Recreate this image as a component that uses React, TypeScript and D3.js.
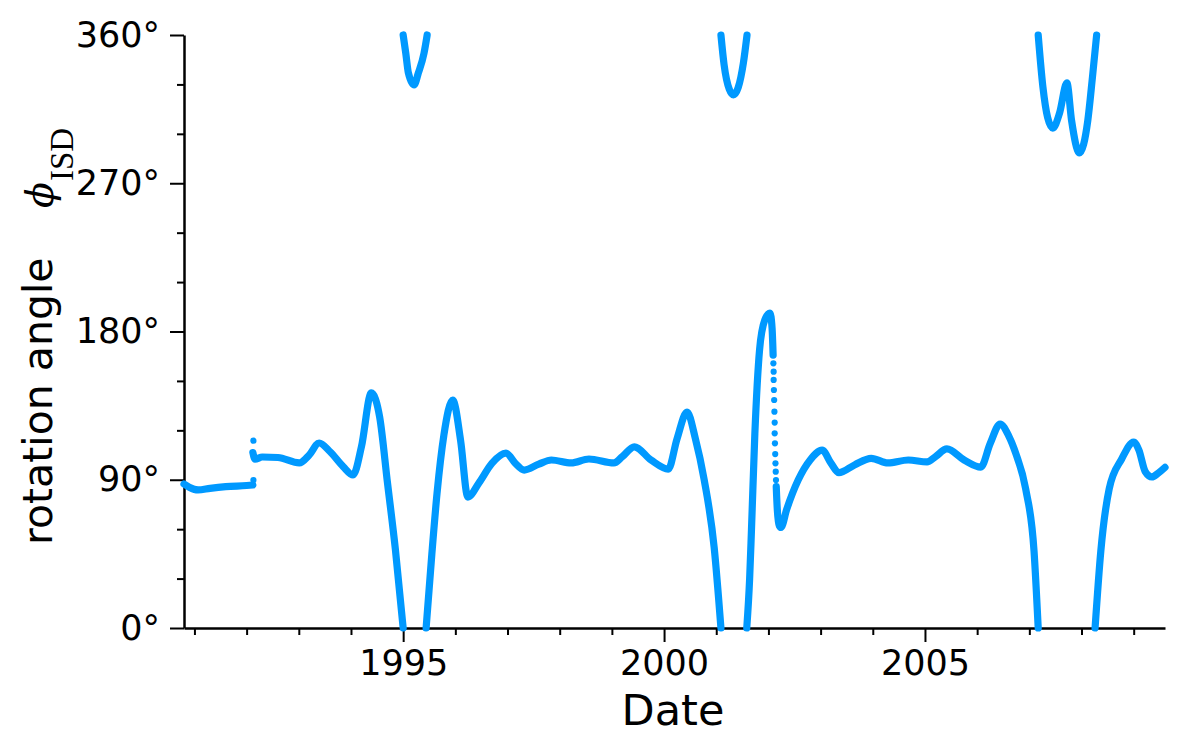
import React, { useEffect, useRef } from 'react';
import * as d3 from 'd3';

type Pt = [number, number];

// track of the rotation angle, read off as [decimal year, degrees]
// one array per unbroken stretch (breaks where the angle wraps 0/360)
const track1991: Pt[] = [
  [1990.8, 87.4], [1990.9, 85.5], [1991.07, 83.8], [1991.3, 84.8],
  [1991.6, 85.8], [1992.0, 86.5], [1992.12, 86.8],
];
const jumpDots1992: Pt[] = [[1992.13, 89.8], [1992.13, 113.7]];
const track1992: Pt[] = [
  [1992.12, 106.5], [1992.16, 102.5], [1992.3, 103.8], [1992.6, 103.5],
  [1993.01, 100.2], [1993.2, 105], [1993.39, 112.3], [1993.6, 107],
  [1993.85, 98], [1994.04, 92.9], [1994.2, 110], [1994.39, 142.7],
  [1994.55, 128], [1994.7, 88], [1994.85, 48], [1995.0, 0],
];
const wrap1995: Pt[] = [
  [1995.0, 360], [1995.05, 349], [1995.1, 337], [1995.21, 329.7],
  [1995.29, 336.8], [1995.4, 349], [1995.46, 360],
];
const track1995: Pt[] = [
  [1995.44, 0], [1995.55, 45], [1995.65, 82], [1995.78, 117],
  [1995.95, 138.4], [1996.1, 114], [1996.24, 79.5], [1996.45, 88],
  [1996.7, 100], [1996.97, 106.2], [1997.15, 100], [1997.32, 95.9],
  [1997.6, 99.5], [1997.84, 102], [1998.22, 100.2], [1998.56, 102.6],
  [1999.04, 100.2], [1999.2, 104], [1999.43, 110], [1999.75, 102],
  [2000.08, 96.5], [2000.25, 115], [2000.44, 131.1], [2000.6, 115],
  [2000.77, 89.8], [2000.96, 49], [2001.09, 0],
];
const wrap2001: Pt[] = [
  [2001.09, 360], [2001.15, 342], [2001.25, 327], [2001.33, 323.6],
  [2001.42, 328], [2001.52, 343], [2001.59, 360],
];
const rise2001: Pt[] = [
  [2001.585, 0], [2001.64, 30], [2001.675, 59.5], [2001.74, 118],
  [2001.83, 168.8], [2001.93, 187], [2002.03, 191.2], [2002.07, 182],
  [2002.09, 165.7],
];
const dropDots2002: Pt[] = [
  [2002.095, 160.7], [2002.1, 155.6], [2002.1, 150.6], [2002.105, 144.5],
  [2002.11, 138.4], [2002.115, 131.3], [2002.12, 124.7], [2002.12, 118.2],
  [2002.125, 112.1], [2002.13, 105.6], [2002.135, 100], [2002.14, 94.9],
  [2002.145, 89.8],
];
const track2002: Pt[] = [
  [2002.15, 85.8], [2002.17, 72], [2002.21, 62], [2002.24, 61],
  [2002.35, 72], [2002.57, 89.8], [2002.8, 102], [2003.03, 108],
  [2003.2, 100], [2003.35, 94.3], [2003.65, 99], [2003.97, 103],
  [2004.29, 100.2], [2004.68, 102], [2005.04, 100.8], [2005.2, 104],
  [2005.42, 108.7], [2005.75, 102], [2006.07, 97.7], [2006.25, 112],
  [2006.44, 123.8], [2006.6, 117], [2006.74, 106], [2006.93, 84.4],
  [2007.09, 46.7], [2007.17, 0],
];
const wrap2007: Pt[] = [
  [2007.17, 360], [2007.26, 328.5], [2007.35, 310], [2007.45, 303.5],
  [2007.58, 312.7], [2007.72, 330.9], [2007.81, 308], [2007.96, 288.4],
  [2008.12, 308], [2008.21, 334.5], [2008.29, 360],
];
const track2008: Pt[] = [
  [2008.26, 0], [2008.37, 46.7], [2008.53, 84.4], [2008.77, 102.6],
  [2009.0, 112.9], [2009.1, 108], [2009.22, 95], [2009.35, 91.7],
  [2009.47, 94], [2009.6, 97.5],
];

const lines = [track1991, track1992, wrap1995, track1995, wrap2001, rise2001, track2002, wrap2007, track2008];
const dots = [...jumpDots1992, ...dropDots2002];

const yTicks = [0, 90, 180, 270, 360];
const yMinor = [30, 60, 120, 150, 210, 240, 300, 330];
const xTicks = [1995, 2000, 2005];
const xMinor = [1991, 1992, 1993, 1994, 1996, 1997, 1998, 1999, 2001, 2002, 2003, 2004, 2006, 2007, 2008, 2009];

const blue = '#0099ff';
const font = 'DejaVu Sans';

export default function App() {
  const ref = useRef<SVGSVGElement>(null);

  useEffect(() => {
    const svg = d3.select(ref.current);
    svg.selectAll('*').remove();

    const left = 184, right = 1165, top = 35, bottom = 628;
    const x = d3.scaleLinear().domain([1990.8, 2009.6]).range([left, right]);
    const y = d3.scaleLinear().domain([0, 360]).range([bottom, top]);

    // axes
    const ya = svg.append('g').attr('transform', `translate(${left},0)`)
      .call(d3.axisLeft(y).tickValues(yTicks).tickSize(14).tickSizeOuter(0).tickPadding(10)
        .tickFormat(d => `${d}°`));
    svg.append('g').attr('transform', `translate(${left},0)`)
      .call(d3.axisLeft(y).tickValues(yMinor).tickSize(7).tickFormat(() => ''))
      .call(g => g.select('.domain').remove());
    const xa = svg.append('g').attr('transform', `translate(0,${bottom})`)
      .call(d3.axisBottom(x).tickValues(xTicks).tickSize(14).tickSizeOuter(0).tickPadding(8)
        .tickFormat(d => `${d}`));
    svg.append('g').attr('transform', `translate(0,${bottom})`)
      .call(d3.axisBottom(x).tickValues(xMinor).tickSize(7).tickFormat(() => ''))
      .call(g => g.select('.domain').remove());

    svg.selectAll('.domain').attr('stroke', '#000').attr('stroke-width', 2.5);
    svg.selectAll('.tick line').attr('stroke', '#000').attr('stroke-width', 2);
    [ya, xa].forEach(a => a.attr('font-family', font).attr('font-size', 35));
    svg.selectAll('.tick text').attr('fill', '#000');

    // data
    const line = d3.line<Pt>().x(d => x(d[0])).y(d => y(d[1])).curve(d3.curveMonotoneX);
    svg.append('g').selectAll('path').data(lines).enter().append('path')
      .attr('d', d => line(d))
      .attr('fill', 'none')
      .attr('stroke', blue)
      .attr('stroke-width', 7.2)
      .attr('stroke-linecap', 'round')
      .attr('stroke-linejoin', 'round');
    svg.append('g').selectAll('circle').data(dots).enter().append('circle')
      .attr('cx', d => x(d[0]))
      .attr('cy', d => y(d[1]))
      .attr('r', 3.1)
      .attr('fill', blue);

    // titles
    svg.append('text').attr('x', 673).attr('y', 725).attr('text-anchor', 'middle')
      .attr('font-family', font).attr('font-size', 43).text('Date');
    svg.append('text').attr('transform', 'translate(52,545) rotate(-90)')
      .attr('font-family', font).attr('font-size', 41).text('rotation angle');
    svg.append('text').attr('transform', 'translate(53,208) rotate(-90)')
      .attr('font-family', 'DejaVu Serif').attr('font-style', 'italic').attr('font-size', 38).text('ϕ');
    svg.append('text').attr('transform', 'translate(73,181) rotate(-90)')
      .attr('font-family', 'Liberation Serif').attr('font-size', 33).text('ISD');
  }, []);

  return (
    <div className="chart-wrapp">
      <svg ref={ref} width={1200} height={750}
        style={{ position: 'absolute', left: 0, top: 0, background: '#fff' }} />
    </div>
  );
}
